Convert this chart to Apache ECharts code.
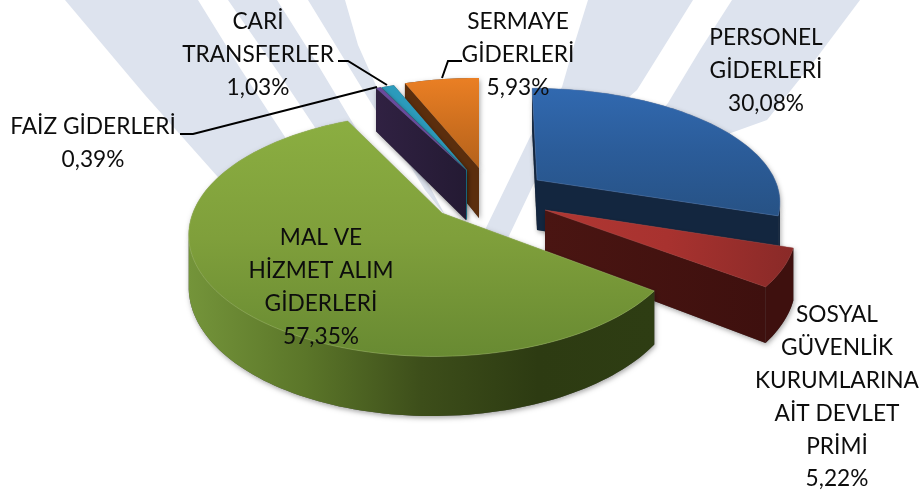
<!DOCTYPE html>
<html>
<head>
<meta charset="utf-8">
<script src="https://cdn.jsdelivr.net/npm/echarts@6/dist/echarts.min.js"></script>
<style>html,body{margin:0;padding:0;background:#fff}#c{width:921px;height:491px}</style>
</head>
<body>
<div id="c"></div>
<script>
// --- data ---
var categories = [
  'PERSONEL\nGİDERLERİ',
  'SOSYAL\nGÜVENLİK\nKURUMLARINA\nAİT DEVLET\nPRİMİ',
  'MAL VE\nHİZMET ALIM\nGİDERLERİ',
  'FAİZ GİDERLERİ',
  'CARİ\nTRANSFERLER',
  'SERMAYE\nGİDERLERİ'
];
var values = [30.08, 5.22, 57.35, 0.39, 1.03, 5.93];

// --- layout / styles (apex of each exploded slice, projection parameters) ---
var P = 0.177, LINE = 32.8;
var geometry = [
  {cx:537, cy:180, R:238, Rk:108, q:0, tilt:0.053, depth:50},
  {cx:545, cy:210, R:247, Rk:114, q:0, tilt:0, depth:50},
  {cx:442, cy:213, R:243, Rk:118, q:-0.025, tilt:0, depth:49},
  {cx:466, cy:170, R:234, Rk:106, q:0, tilt:0, depth:50},
  {cx:467, cy:170, R:234, Rk:106, q:0, tilt:0, depth:50},
  {cx:479, cy:168, R:237, Rk:106, q:0, tilt:0, depth:50}
];
function lin(x,y,x2,y2,stops){
  return {type:'linear',x:x,y:y,x2:x2,y2:y2,colorStops:stops.map(function(c,i){return {offset:i/(stops.length-1),color:c};})};
}
var looks = [
  {top:lin(0,0,0,1,['#3169b0','#2b5c99','#275285']), wall:'#13263f', rim:'#13263f', edge:'rgba(90,130,190,0.4)'},
  {top:lin(0,0,1,0.3,['#b03733','#a8322f','#8a2a28']), wall:lin(0,0,1,0,['#4a1512','#3e100e']), rim:'#3e100e', edge:'rgba(190,80,75,0.3)'},
  {top:lin(0,0,0,1,['#8bae41','#7f9f3b','#688a32']), wall:'#3a4a18', rim:lin(0,0,1,0,['#74943a','#5b7629','#3d4e1a','#2d3b12','#2e3d13']), edge:'rgba(175,205,110,0.4)'},
  {top:'#6a4a9c', wall:lin(0,0,1,0,['#302142','#241a33']), rim:'#241a33', edge:null},
  {top:'#2b9bbc', wall:'#1d7f98', rim:'#1d7f98', edge:null},
  {top:lin(0,0,0,1,['#ea7f24','#cf701f','#b5621b']), wall:'#5b2e0d', rim:'#5b2e0d', edge:null}
];
var labelPlaces = [
  {x:766, y:38},
  {x:837, y:315},
  {x:321, y:238},
  {x:93,  y:127},
  {x:258, y:22},
  {x:518, y:22}
];
var leaders = [
  null, null, null,
  [[180,134],[193,134],[377,87]],
  [[338,61],[348,61],[387,85]],
  [[462,61],[448,61],[442,78]]
];
var drawOrder = [0,1,5,4,3,2];
var bands = [
  [[65,0],[198,0],[240,68],[300,160],[225,185],[145,95]],
  [[228,0],[277,0],[318,65],[360,135],[330,150],[280,75]],
  [[308,0],[345,0],[358,45],[378,90],[445,215],[425,190],[360,85]],
  [[588,0],[693,0],[665,45],[637,90],[537,177],[507,240],[484,232],[530,137],[562,87],[575,42]],
  [[732,0],[860,0],[815,60],[767,120],[600,180],[630,150],[668,103],[700,50]]
];

// --- geometry ---
var total = values.reduce(function(a,b){return a+b;},0);
var starts = [], acc = 0;
values.forEach(function(v){ starts.push(acc); acc += v; });

function project(g, deg){
  var a = deg*Math.PI/180, u = Math.sin(a), v = -Math.cos(a);
  var f = 1/(1 - P*v - g.q*u);
  var dy = g.Rk*v*f;
  return {x:g.cx + g.R*u*f + g.tilt*dy, y:g.cy + dy, f:f, v:v};
}
function arc(g, a0, a1){
  var pts = [], n = Math.max(4, Math.ceil(Math.abs(a1-a0)/1.5));
  for (var i=0;i<=n;i++) pts.push(project(g, a0+(a1-a0)*i/n));
  return pts;
}
function low(g,p){ return [p.x, p.y + g.depth*p.f]; }
function up(p){ return [p.x, p.y]; }

function renderSlice(params, api){
  var i = api.value(0), val = api.value(1);
  var g = geometry[i], look = looks[i];
  var a0 = starts[i]/total*360, a1 = (starts[i]+val)/total*360;
  var outer = arc(g,a0,a1), apex = {x:g.cx,y:g.cy,f:1};
  var mid = project(g,(a0+a1)/2);
  var polys = [];

  function faceVisible(p){
    // the wall under an edge shows when the slice's interior lies above that edge
    var cross = (p.x-apex.x)*(mid.y-apex.y) - (p.y-apex.y)*(mid.x-apex.x);
    return (p.x>apex.x) ? cross<0 : cross>0;
  }
  [outer[0], outer[outer.length-1]].forEach(function(p){
    if (a1-a0 < 180 && faceVisible(p))
      polys.push({pts:[up(apex),up(p),low(g,p),low(g,apex)], fill:look.wall});
  });
  var front = outer.filter(function(p){return p.v > P;});
  if (front.length > 1){
    polys.push({pts:front.map(up).concat(front.slice().reverse().map(function(p){return low(g,p);})), fill:look.rim});
  }
  var topPts = [up(apex)].concat(outer.map(up));
  polys.push({pts:topPts, fill:look.top, stroke:look.edge});

  var kids = polys.map(function(pl){
    return {type:'polygon', shape:{points:pl.pts},
      style:{fill:'#555', shadowBlur:5, shadowColor:'rgba(0,0,0,0.35)', shadowOffsetX:1, shadowOffsetY:2}};
  }).concat(polys.map(function(pl){
    return {type:'polygon', shape:{points:pl.pts},
      style:{fill:pl.fill, stroke:pl.stroke||null, lineWidth:pl.stroke?1:0}};
  }));
  return {type:'group', children:kids};
}

function renderLabel(params, api){
  var i = api.value(0), place = labelPlaces[i];
  var lines = categories[i].split('\n');
  lines.push(values[i].toFixed(2).replace('.',',')+'%');
  var kids = lines.map(function(t,k){
    return {type:'text', style:{text:t, x:place.x, y:place.y+k*LINE, align:'center', verticalAlign:'middle',
      fill:'#0d0d0d', font:'22.7px Lato'}};
  });
  if (leaders[i]) kids.push({type:'polyline', shape:{points:leaders[i]},
    style:{fill:null, stroke:'#000', lineWidth:2}});
  return {type:'group', children:kids};
}

var chart = echarts.init(document.getElementById('c'), null, {renderer:'canvas'});
chart.setOption({
  animation:false,
  backgroundColor:'#ffffff',
  graphic:bands.map(function(pts){
    return {type:'polygon', z:0, silent:true, shape:{points:pts}, style:{fill:'#dde3ee'}};
  }),
  series:[
    {type:'custom', coordinateSystem:'none', z:2, silent:true, renderItem:renderSlice,
     data:drawOrder.map(function(i){return [i, values[i]];})},
    {type:'custom', coordinateSystem:'none', z:3, silent:true, renderItem:renderLabel,
     data:values.map(function(v,i){return [i, v];})}
  ]
});
</script>
</body>
</html>
